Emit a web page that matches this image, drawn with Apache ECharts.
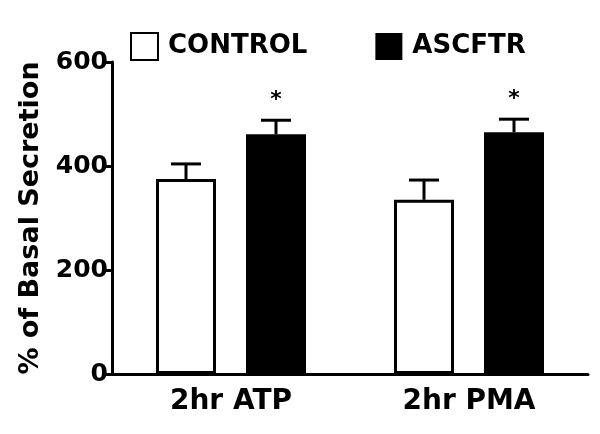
<!DOCTYPE html>
<html>
<head>
<meta charset="utf-8">
<script src="https://cdn.jsdelivr.net/npm/echarts@6/dist/echarts.min.js"></script>
<style>
  html, body { margin: 0; padding: 0; background: #fff; }
  #chart { width: 600px; height: 434px; }
</style>
</head>
<body>
<div id="chart"></div>
<script>
// data
var categories = ["2hr ATP", "2hr PMA"];
var controlVals = [375, 335];
var controlErr = [29, 38];
var ascftrVals = [461, 465];
var ascftrErr = [27, 25];
var stars = ["*", "*"];
var yTicks = [0, 200, 400, 600];

var FONT = "DejaVu Sans";
var chart = echarts.init(document.getElementById("chart"));

// error bar (upper only) + optional star, offset to sit on its bar
function errorRenderer(vals, errs, offset, marks) {
  return function (params, api) {
    var i = params.dataIndex;
    var top = api.coord([i, vals[i] + errs[i]]);
    var base = api.coord([i, vals[i]]);
    var x = base[0] + offset;
    var half = 15;
    var children = [
      { type: "line", shape: { x1: x, y1: base[1], x2: x, y2: top[1] },
        style: { stroke: "#000", lineWidth: 3 } },
      { type: "line", shape: { x1: x - half, y1: top[1], x2: x + half, y2: top[1] },
        style: { stroke: "#000", lineWidth: 3 } }
    ];
    if (marks && marks[i]) {
      children.push({
        type: "text",
        style: { text: marks[i], x: x, y: top[1] - 9, align: "center", verticalAlign: "bottom",
          font: "bold 22px '" + FONT + "'", fill: "#000" }
      });
    }
    return { type: "group", children: children };
  };
}

var option = {
  animation: false,
  backgroundColor: "#fff",
  grid: { left: 112, right: 12, top: 62, bottom: 60 },
  legend: {
    left: 125, top: 27,
    itemWidth: 27, itemHeight: 27, itemGap: 68,
    icon: "rect",
    data: ["CONTROL", "ASCFTR"],
    textStyle: { fontFamily: FONT, fontWeight: "bold", fontSize: 26, color: "#000", padding: [0, 0, 0, 5] }
  },
  xAxis: {
    type: "category",
    data: categories,
    axisLine: { lineStyle: { color: "#000", width: 3 } },
    axisTick: { show: false },
    axisLabel: { color: "#000", fontFamily: FONT, fontWeight: "bold", fontSize: 28, margin: 14 }
  },
  yAxis: {
    type: "value",
    min: yTicks[0], max: yTicks[yTicks.length - 1], interval: 200,
    name: "% of Basal Secretion",
    nameLocation: "middle",
    nameGap: 66,
    nameTextStyle: { color: "#000", fontFamily: FONT, fontWeight: "bold", fontSize: 27 },
    axisLine: { show: true, lineStyle: { color: "#000", width: 3 } },
    axisTick: { show: true, length: 8, lineStyle: { color: "#000", width: 3 } },
    axisLabel: { color: "#000", fontFamily: FONT, fontWeight: "bold", fontSize: 25, margin: 4 },
    splitLine: { show: false }
  },
  series: [
    {
      name: "CONTROL", type: "bar", data: controlVals,
      barWidth: 60, barGap: "50%",
      itemStyle: { color: "#fff", borderColor: "#000", borderWidth: 3 }
    },
    {
      name: "ASCFTR", type: "bar", data: ascftrVals,
      barWidth: 60,
      itemStyle: { color: "#000", borderColor: "#000", borderWidth: 0 }
    },
    {
      type: "custom", data: controlVals, z: 5,
      renderItem: errorRenderer(controlVals, controlErr, -45, null)
    },
    {
      type: "custom", data: ascftrVals, z: 5,
      renderItem: errorRenderer(ascftrVals, ascftrErr, 45, stars)
    }
  ]
};

chart.setOption(option);
</script>
</body>
</html>
